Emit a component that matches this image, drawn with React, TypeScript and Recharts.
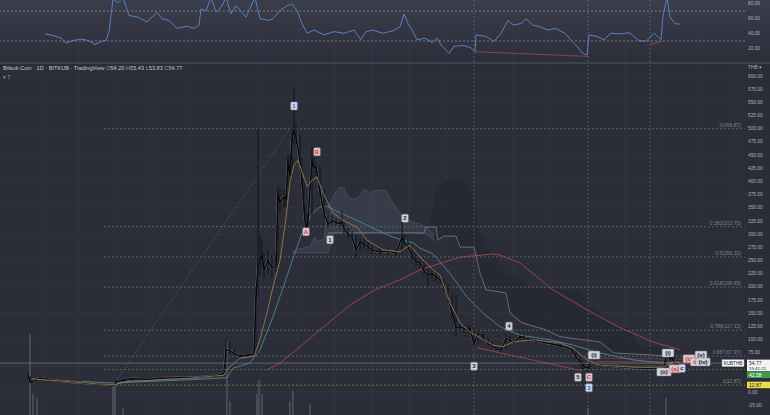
import React from "react";
import {
  ComposedChart,
  Line,
  Area,
  Bar,
  XAxis,
  YAxis,
  CartesianGrid,
  ReferenceLine,
  ReferenceDot,
  ErrorBar,
} from "recharts";

const FONT = "'Liberation Sans', Arial, sans-serif";
const X_DOMAIN: [number, number] = [-14, 358.5];
const PRICE_DOMAIN: [number, number] = [-43.7, 622.7];
const RSI_DOMAIN: [number, number] = [2, 84.7];

// day, low, high, close
const candles: [number, number, number, number][] = [
  [0, 22, 38, 32], [1, 16, 30, 20], [2, 16, 22, 18], [4, 18, 27, 25], [6, 23, 30, 26],
  [10, 22, 26, 24], [16, 19, 23, 21], [22, 17, 21, 19], [28, 15, 19, 17], [36, 14, 17, 15],
  [42, 13, 15, 14], [43, 12.87, 14, 13], [44, 13, 23, 19], [48, 19, 25, 23], [52, 22, 27, 25],
  [60, 22, 26, 24], [66, 24, 28, 26], [76, 25, 29, 27], [86, 26, 30, 28], [94, 28, 33, 31],
  [98, 31, 37, 35], [99, 35, 99, 80], [101, 70, 95, 78], [103, 68, 80, 72], [106, 64, 72, 68],
  [110, 66, 74, 70], [113, 68, 78, 72], [114, 72, 200, 180], [115, 180, 499.67, 240],
  [116, 220, 300, 250], [117, 235, 290, 260], [118, 215, 265, 230], [120, 225, 270, 250],
  [122, 220, 260, 235], [124, 228, 262, 240], [125, 240, 390, 378], [126, 340, 385, 360],
  [128, 350, 385, 370], [129, 350, 375, 365], [130, 365, 450, 440], [131, 400, 450, 410],
  [132, 410, 500, 480], [133, 470, 577, 497], [134, 470, 510, 484], [136, 430, 490, 440],
  [137, 390, 445, 400], [138, 340, 405, 350], [139, 294, 355, 300], [140, 295, 340, 330],
  [142, 330, 465, 440], [143, 415, 445, 425], [144, 410, 435, 427], [146, 370, 430, 380],
  [148, 330, 385, 340], [150, 312, 345, 318], [152, 315, 335, 326], [154, 315, 330, 322],
  [156, 312, 328, 320], [157, 315, 345, 322], [158, 300, 325, 310], [160, 292, 312, 300],
  [162, 285, 305, 294], [164, 255, 298, 270], [166, 268, 292, 285], [168, 272, 290, 280],
  [170, 268, 285, 275], [172, 262, 280, 270], [176, 260, 274, 266], [180, 262, 275, 268],
  [184, 258, 272, 264], [187, 262, 332, 294], [188, 278, 300, 285], [190, 268, 288, 275],
  [192, 250, 280, 258], [194, 240, 262, 248], [196, 238, 252, 245], [198, 222, 248, 230],
  [200, 200, 235, 222], [202, 215, 232, 225], [204, 210, 228, 218], [206, 205, 222, 213],
  [208, 190, 215, 200], [210, 170, 205, 180], [212, 140, 185, 150], [213, 130, 155, 140],
  [214, 105, 184, 122], [216, 115, 130, 124], [218, 112, 128, 120], [220, 112, 125, 118],
  [221, 110, 126, 120], [223, 86, 122, 92], [225, 92, 118, 110], [227, 100, 114, 108],
  [228, 95, 110, 100], [230, 88, 102, 92], [232, 84, 95, 88], [234, 79, 90, 82],
  [236, 77, 85, 80], [237, 78, 88, 83], [239, 82, 110, 102], [241, 92, 105, 98],
  [243, 90, 100, 94], [246, 94, 108, 105], [248, 98, 108, 104], [250, 95, 104, 99],
  [254, 93, 102, 98], [258, 90, 98, 94], [262, 87, 95, 91], [266, 84, 92, 88],
  [270, 80, 88, 84], [272, 74, 84, 80], [274, 62, 80, 66], [276, 52, 68, 58],
  [277, 42, 60, 55], [278, 44, 56, 48], [280, 37, 50, 46], [281, 44, 60, 56],
  [283, 50, 58, 55], [286, 48, 56, 52], [290, 47, 53, 50], [296, 45, 51, 48],
  [302, 44, 49, 46], [308, 43, 48, 45], [312, 43, 47, 45], [316, 44, 48, 46],
  [318, 45, 49, 47], [319, 46, 83, 70], [320, 64, 80, 74], [321, 58, 76, 62],
  [322, 58, 70, 66], [323, 52, 68, 56], [324, 42, 58, 50], [325, 48, 57, 54],
  [326, 53.83, 55.43, 54.77],
];

// day, value
const emaFast: [number, number][] = [
  [2, 25], [16, 21], [36, 15], [43, 14], [50, 20], [80, 26], [98, 32], [100, 45], [106, 64],
  [113, 68], [116, 100], [119.5, 150], [122.5, 200], [126, 250], [129, 330], [131, 400],
  [133, 430], [135, 440], [139.5, 390], [142, 402], [144.5, 408], [147.5, 378], [152.5, 340],
  [157.5, 326], [164.5, 313], [169.5, 288], [177.5, 270], [186, 266], [191, 279], [196, 256],
  [202.5, 232], [206, 222], [211, 169], [216, 131], [221, 114], [226, 103], [232.5, 89],
  [237.5, 86], [242.5, 95], [252.5, 99], [266, 93], [272.5, 83], [279.5, 61], [286, 51],
  [302.5, 47], [317.5, 47], [322.5, 57], [326, 56],
];

const maMid: [number, number][] = [
  [27.5, 20], [43, 17], [60, 20], [80, 23], [99.5, 27], [102.5, 45], [111, 55], [116, 80],
  [122.5, 143], [129.5, 220], [134.5, 275], [137.5, 307], [142.5, 340], [146, 351],
  [149.5, 353], [156, 340], [164.5, 326], [172.5, 311], [182.5, 294], [192.5, 283],
  [196, 273], [202.5, 262], [211, 225], [219.5, 180], [227.5, 150], [236, 124], [246, 108],
  [261, 99], [272.5, 89], [286, 74], [302.5, 61], [317.5, 55], [326, 55],
];

const ma200: [number, number][] = [
  [119.5, 42], [126, 55], [136, 86], [146, 118], [161, 165], [173.5, 194], [186, 213],
  [196, 232], [211, 250], [216, 256], [232.5, 262], [236, 260], [246, 245], [262.5, 194],
  [279.5, 156], [296, 122], [312.5, 95], [326, 80],
];

// day, lower, upper
const cloudLight: [number, number, number][] = [
  [132, 264, 266], [136, 264, 272], [141, 264, 276], [143, 264, 294], [145, 264, 286],
  [148, 264, 290], [150, 264, 351], [153, 302, 375], [156, 302, 389], [158, 302, 387],
  [160, 302, 370], [163, 302, 365], [166, 302, 372], [168, 302, 385], [171, 302, 378],
  [174, 302, 383], [179, 302, 383], [182, 302, 362], [186, 302, 340], [190, 302, 326],
  [195, 302, 320], [199, 300, 313], [203, 288, 300],
];

const cloudDark: [number, number, number][] = [
  [201, 313, 330], [204, 313, 380], [205, 288, 385], [206, 296, 393], [210, 296, 405],
  [213, 296, 408], [216, 275, 408], [220, 275, 392], [223, 275, 370], [225, 240, 313],
  [227, 210, 290], [229, 194, 272], [235, 190, 250], [239, 188, 228], [241, 150, 222],
  [246, 137, 219], [250, 131, 200], [259, 118, 196], [266, 105, 194], [276, 100, 194],
  [279, 98, 170], [286, 95, 150], [293, 74, 128], [301, 72, 118], [304, 71, 90],
  [316, 70, 86], [320, 68, 72],
];

const baseLineSpan: [number, number][] = [
  [150, 302], [198, 302], [199, 313], [204, 313], [205, 288], [208, 296], [214, 296],
  [216, 275], [223, 275], [226, 226], [229, 194], [239, 188], [241, 150], [247, 131],
  [259, 118], [266, 105], [286, 95], [293, 74], [313, 70], [320, 68],
];

const volume: [number, number][] = [
  [1, 23], [2.5, 6], [4.5, 5], [42.5, 8], [43.5, 9], [47.5, 2], [99.5, 21], [101, 4],
  [114.5, 6], [115.5, 10], [117, 6], [131, 4], [132.5, 7], [141, 3], [280, 2], [319, 5],
];

const rsi: [number, number][] = [
  [8.5, 39.5], [13, 36.9], [16.5, 33.8], [19, 27.4], [23, 30.8], [26.5, 32.5], [30, 30.8],
  [33.5, 25.2], [36.5, 29.5], [39, 30.8], [40.5, 42.5], [42.5, 86], [45, 81], [47.5, 88],
  [50.5, 64], [55, 61.9], [59.5, 55.4], [64.5, 68.4], [67, 59.8], [70.5, 57.6], [74.5, 46.8],
  [79.5, 49.8], [83, 46.8], [85.5, 51.1], [86.5, 72.7], [89, 70.5], [91.5, 88], [94, 68.4],
  [96.5, 74.9], [99, 88], [101.5, 66.2], [104, 77], [109, 61.9], [113.5, 88], [116, 59.8],
  [120, 57.6], [122.5, 59.8], [126, 70.5], [129.5, 77], [132, 79.2], [134.5, 70.5],
  [137, 53.3], [139.5, 40.3], [143, 44.6], [148, 38.2], [153, 42.5], [158, 40.3],
  [163, 44.6], [166.5, 31.7], [169, 42.5], [172.5, 44.6], [177.5, 40.3], [182.5, 43.8],
  [186, 49], [188, 66.2], [190, 53.3], [192.5, 42.5], [194.5, 31.7], [198.5, 33.8],
  [202, 28.2], [204.5, 33.8], [207, 23], [210.5, 13.5], [213, 23], [218, 23.9],
  [221.5, 20.9], [223.5, 15.7], [224, 38.2], [229, 36], [233, 29.5], [236.5, 40.3],
  [240, 57.6], [242.5, 51.1], [246.5, 53.3], [249, 59.8], [252.5, 51.1], [256, 49],
  [260, 44.6], [263.5, 46.8], [268.5, 40.3], [272, 29.5], [274.5, 23], [277, 14.4],
  [279.5, 11], [280.5, 38.2], [284.5, 36], [288, 31.7], [291.5, 40.3], [296.5, 39.5],
  [300.5, 41.2], [305.5, 30.8], [309, 29.5], [313, 40.3], [316.5, 31.7], [317.5, 64],
  [319.5, 88], [321, 61.9], [323.5, 53.3], [326, 52.4],
];

const fibLevels = [0, 0.382, 0.5, 0.618, 0.786, 0.887, 1];
const fibPrices = [499.67, 313.75, 256.32, 198.89, 117.12, 67.97, 12.87];
const fibStartDay = 38;
const fibAnchors = [{ day: 42.5, price: 12.87 }, { day: 131, price: 499.67 }];

// 25 and 50 sit under the price tags, so they are left out
const priceTicks = [-25, 0, 75, 100, 125, 150, 175, 200, 225, 250, 275, 300, 325, 350, 375, 400, 425, 450, 475, 500, 525, 550, 575, 600];
const gridPrices = [0, 50, 100, 150, 200, 250, 300, 350, 400, 450, 500, 550, 600];
const gridDays = [7.5, 25.5, 43.5, 62, 80.5, 99.5, 116.5, 135, 153.5, 172, 190.5, 209, 242.5, 261, 298.5, 317, 335.5, 354];
const sessionDays = [223, 280, 311];

const waveTags: { day: number; price: number; text: string; tone: string }[] = [
  { day: 133, price: 543, text: "1", tone: "blue" },
  { day: 144.5, price: 456, text: "B", tone: "red" },
  { day: 139, price: 304, text: "A", tone: "red" },
  { day: 151, price: 289, text: "1", tone: "gray" },
  { day: 188.5, price: 330, text: "2", tone: "gray" },
  { day: 223, price: 49, text: "3", tone: "gray" },
  { day: 240.5, price: 125, text: "4", tone: "gray" },
  { day: 275, price: 28, text: "5", tone: "gray" },
  { day: 280.5, price: 28, text: "C", tone: "red" },
  { day: 280.5, price: 8, text: "3", tone: "blue" },
  { day: 283, price: 70, text: "(i)", tone: "gray" },
  { day: 318, price: 38, text: "(ii)", tone: "gray" },
  { day: 320, price: 74, text: "(i)", tone: "gray" },
  { day: 323.5, price: 44, text: "(a)", tone: "red" },
  { day: 327, price: 45, text: "c", tone: "gray" },
  { day: 330.5, price: 63, text: "(b)", tone: "red" },
  { day: 336.5, price: 70, text: "(v)", tone: "gray" },
  { day: 333.5, price: 57, text: "ii", tone: "red" },
  { day: 337.5, price: 57, text: "(iv)", tone: "gray" },
];

const lastPrice = 54.77;
const supportPrice = 42.58;
const lowPrice = 12.87;

// merge every series into one table keyed by day
const rowMap = new Map<number, any>();
const put = (day: number, key: string, val: any) => {
  const row = rowMap.get(day) ?? { day };
  row[key] = val;
  rowMap.set(day, row);
};
candles.forEach(([d, lo, hi, c]) => {
  put(d, "close", c);
  put(d, "wick", [c - lo, hi - c]);
});
emaFast.forEach(([d, v]) => put(d, "ema", v));
maMid.forEach(([d, v]) => put(d, "mid", v));
ma200.forEach(([d, v]) => put(d, "ma200", v));
cloudLight.forEach(([d, lo, hi]) => put(d, "cloudA", [lo, hi]));
cloudDark.forEach(([d, lo, hi]) => put(d, "cloudB", [lo, hi]));
baseLineSpan.forEach(([d, v]) => put(d, "base", v));
volume.forEach(([d, v]) => put(d, "vol", v));
const mainData = [...rowMap.values()].sort((a, b) => a.day - b.day);
const rsiData = rsi.map(([day, value]) => ({ day, value }));

const TONES: Record<string, { bg: string; fg: string }> = {
  gray: { bg: "#d3d5dc", fg: "#15171d" },
  red: { bg: "#e6c9cc", fg: "#d2343c" },
  blue: { bg: "#cdd8f0", fg: "#2f62d4" },
};

const WaveTag = ({ cx, cy, text, tone }: any) => {
  const c = TONES[tone];
  const w = text.length * 2.6 + 4;
  return (
    <g>
      <rect x={cx - w / 2} y={cy - 4} width={w} height={8} fill={c.bg} stroke="#7e818c" strokeWidth={0.5} rx={1} />
      <text x={cx} y={cy + 2.2} textAnchor="middle" fontSize={6} fontWeight={700} fill={c.fg} fontFamily={FONT}>
        {text}
      </text>
    </g>
  );
};

const fibLabel = (text: string, color: string) => (props: any) => {
  const vb = props.viewBox || {};
  return (
    <text x={(vb.x ?? 0) + (vb.width ?? 0) - 4} y={(vb.y ?? 0) - 2} textAnchor="end" fontSize={5} fill={color} fontFamily={FONT}>
      {text}
    </text>
  );
};

// price tag drawn in the axis gutter; shift moves it off a neighbour
const axisBox = (text: string, bg: string, fg: string, shift = 0, sub?: string, side?: string) => (props: any) => {
  const vb = props.viewBox || {};
  const right = (vb.x ?? 0) + (vb.width ?? 0);
  const y = (vb.y ?? 0) + shift;
  return (
    <g>
      {side && (
        <g>
          <rect x={right - 23} y={y - 3.5} width={22} height={7} fill="#f4f4f6" stroke="#9a9da6" strokeWidth={0.5} />
          <text x={right - 12} y={y + 1.8} textAnchor="middle" fontSize={4.6} fill="#1b1d23" fontFamily={FONT}>
            {side}
          </text>
        </g>
      )}
      <rect x={right + 2} y={y - 3.5} width={23} height={sub ? 11.5 : 6.5} fill={bg} />
      <text x={right + 4} y={y + 1.7} fontSize={5} fill={fg} fontFamily={FONT}>
        {text}
      </text>
      {sub && (
        <text x={right + 4} y={y + 6.8} fontSize={4.4} fill={fg} fontFamily={FONT}>
          {sub}
        </text>
      )}
    </g>
  );
};

const tickStyle = { fontSize: 4.8, fill: "#aeb1bb", fontFamily: FONT };

export default function App() {
  return (
    <div style={{ position: "absolute", left: 0, top: 0, width: 770, height: 415, background: "#2b2e39", overflow: "hidden", fontFamily: FONT }}>
      <div style={{ position: "absolute", left: 0, top: 0, width: 770, height: 62, background: "linear-gradient(#3a3d4a, #2c2f3a)" }} />
      <div style={{ position: "absolute", left: 0, top: 0 }}>
        <ComposedChart width={770} height={62} data={rsiData} margin={{ top: 0, right: 0, bottom: 0, left: 0 }}>
          <CartesianGrid stroke="#3b3e4a" strokeWidth={0.6} horizontal={false} verticalValues={gridDays} />
          <XAxis dataKey="day" type="number" domain={X_DOMAIN} allowDataOverflow hide />
          <YAxis
            orientation="right"
            width={25}
            domain={RSI_DOMAIN}
            allowDataOverflow
            ticks={[20, 40, 60, 80]}
            tickFormatter={(v: number) => v.toFixed(2)}
            axisLine={false}
            tickLine={false}
            tickSize={0}
            tickMargin={3}
            tick={tickStyle}
          />
          {sessionDays.map((d) => (
            <ReferenceLine key={d} x={d} stroke="#6a6d79" strokeDasharray="2 2" strokeWidth={0.7} />
          ))}
          <ReferenceLine y={70} stroke="#8a8d98" strokeDasharray="2 2" strokeWidth={0.8} />
          <ReferenceLine y={30} stroke="#8a8d98" strokeDasharray="2 2" strokeWidth={0.8} />
          <ReferenceLine segment={[{ x: 223.5, y: 15.7 }, { x: 280, y: 9.5 }]} stroke="#a8454b" strokeWidth={0.8} ifOverflow="visible" />
          <ReferenceLine segment={[{ x: 311, y: 25 }, { x: 317, y: 30 }]} stroke="#a8454b" strokeWidth={0.8} ifOverflow="visible" />
          <Line dataKey="value" stroke="#5a7fc6" strokeWidth={1} dot={false} activeDot={false} isAnimationActive={false} />
        </ComposedChart>
      </div>
      <div style={{ position: "absolute", left: 0, top: 62, width: 770, height: 2, background: "#3f4250" }} />
      <div style={{ position: "absolute", left: 0, top: 64 }}>
        <ComposedChart width={770} height={351} data={mainData} margin={{ top: 0, right: 0, bottom: 0, left: 0 }} barGap={0}>
          <CartesianGrid stroke="#353845" strokeWidth={0.6} horizontalValues={gridPrices} verticalValues={gridDays} />
          <XAxis dataKey="day" type="number" domain={X_DOMAIN} allowDataOverflow hide />
          <YAxis
            orientation="right"
            width={25}
            domain={PRICE_DOMAIN}
            allowDataOverflow
            ticks={priceTicks}
            interval={0}
            tickFormatter={(v: number) => v.toFixed(2)}
            axisLine={false}
            tickLine={false}
            tickSize={0}
            tickMargin={3}
            tick={tickStyle}
          />
          <YAxis yAxisId="vol" hide domain={[0, 100]} />
          <Bar yAxisId="vol" dataKey="vol" barSize={1.5} fill="#6b6e7a" isAnimationActive={false} />
          <Area dataKey="cloudA" stroke="#565966" strokeWidth={0.6} fill="#4a4d5b" fillOpacity={0.45} connectNulls activeDot={false} isAnimationActive={false} />
          <Area dataKey="cloudB" stroke="none" fill="#1f2129" fillOpacity={0.42} connectNulls activeDot={false} isAnimationActive={false} />
          <Line dataKey="base" stroke="#777b88" strokeWidth={0.8} dot={false} activeDot={false} connectNulls isAnimationActive={false} />
          {sessionDays.map((d) => (
            <ReferenceLine key={d} x={d} stroke="#5f6270" strokeDasharray="2 2" strokeWidth={0.7} />
          ))}
          {fibPrices.map((p, i) => (
            <ReferenceLine
              key={`fib-${i}`}
              segment={[{ x: fibStartDay, y: p }, { x: X_DOMAIN[1], y: p }]}
              stroke={i === 6 ? "#8b8646" : "#676a77"}
              strokeDasharray="2 2"
              strokeWidth={0.8}
              label={{ content: fibLabel(`${fibLevels[i]}(${p.toFixed(2)})`, i === 6 ? "#8f8a62" : "#7e808c") }}
            />
          ))}
          <ReferenceLine
            segment={[{ x: fibAnchors[0].day, y: fibAnchors[0].price }, { x: fibAnchors[1].day, y: fibAnchors[1].price }]}
            stroke="#6a6d79"
            strokeDasharray="1 2"
            strokeWidth={0.8}
          />
          <ReferenceLine segment={[{ x: 224.5, y: 84 }, { x: 277, y: 40 }]} stroke="#a8454b" strokeWidth={0.8} />
          <ReferenceLine segment={[{ x: 284.5, y: 58 }, { x: 340, y: 57 }]} stroke="#8e4247" strokeWidth={0.7} />
          <ReferenceLine segment={[{ x: 284.5, y: 64 }, { x: 335, y: 62 }]} stroke="#8e4247" strokeWidth={0.6} />
          <Line dataKey="ma200" stroke="#a5464c" strokeWidth={0.9} dot={false} activeDot={false} connectNulls isAnimationActive={false} />
          <Line dataKey="mid" stroke="#4a8792" strokeWidth={0.9} dot={false} activeDot={false} connectNulls isAnimationActive={false} />
          <Line dataKey="close" stroke="#6f727e" strokeWidth={2.4} dot={false} activeDot={false} connectNulls isAnimationActive={false} />
          <Line dataKey="close" stroke="#08090c" strokeWidth={1.6} dot={false} activeDot={false} connectNulls isAnimationActive={false}>
            <ErrorBar dataKey="wick" width={0} stroke="#111216" strokeWidth={1} direction="y" />
          </Line>
          <Line dataKey="ema" stroke="#a9824f" strokeWidth={0.8} dot={false} activeDot={false} connectNulls isAnimationActive={false} />
          <ReferenceLine y={lowPrice} stroke="transparent" label={{ content: axisBox("12.87", "#e9de4c", "#1b1d23") }} />
          <ReferenceLine
            segment={[{ x: fibStartDay, y: supportPrice }, { x: X_DOMAIN[1], y: supportPrice }]}
            stroke="#5d7250"
            strokeDasharray="2 2"
            strokeWidth={0.8}
          />
          <ReferenceLine y={supportPrice} stroke="transparent" label={{ content: axisBox("42.58", "#3f9a4a", "#ffffff", 5.5) }} />
          <ReferenceLine
            y={lastPrice}
            stroke="#6f7280"
            strokeWidth={0.8}
            label={{ content: axisBox("54.77", "#f4f4f6", "#1b1d23", 0, "15:41:21", "KUBTHB") }}
          />
          {waveTags.map((t, i) => (
            <ReferenceDot
              key={`tag-${i}`}
              x={t.day}
              y={t.price}
              r={3}
              ifOverflow="visible"
              shape={(p: any) => <WaveTag cx={p.cx} cy={p.cy} text={t.text} tone={t.tone} />}
            />
          ))}
        </ComposedChart>
      </div>
      <div style={{ position: "absolute", left: 3, top: 65, fontSize: 5.6, color: "#c3c6cf", whiteSpace: "nowrap", lineHeight: "7px" }}>
        Bitkub Coin · 1D · BITKUB · TradingView{" "}
        <span style={{ color: "#9ea1ab" }}>O</span>54.20 <span style={{ color: "#9ea1ab" }}>H</span>55.43{" "}
        <span style={{ color: "#9ea1ab" }}>L</span>53.83 <span style={{ color: "#9ea1ab" }}>C</span>54.77
      </div>
      <div style={{ position: "absolute", left: 3, top: 74, fontSize: 5, color: "#9ea1ab", lineHeight: "7px" }}>▾ 7</div>
      <div style={{ position: "absolute", left: 748, top: 64, fontSize: 4.8, color: "#aeb1bb", lineHeight: "7px" }}>THB ▾</div>
    </div>
  );
}
